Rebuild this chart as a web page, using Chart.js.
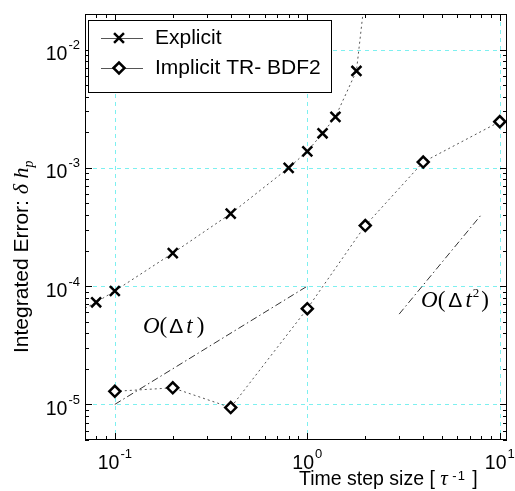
<!DOCTYPE html>
<html lang="en">
<head>
<meta charset="UTF-8">
<title>Integrated error vs time step size</title>
<script src="https://cdn.jsdelivr.net/npm/chart.js@4"></script>
<style>
    html, body { margin: 0; padding: 0; background: #ffffff; }
    #wrap { width: 515px; height: 491px; }
</style>
</head>
<body>
<div id="wrap"><canvas id="errChart" width="515" height="491"></canvas></div>
<script>
// values (step size, integrated error)
// first and last explicit entries only carry the dotted curve out to the frame
const explicitSteps = [0.07, 0.08, 0.1, 0.2, 0.4, 0.8, 1.0, 1.2, 1.4, 1.8, 2.0];
const explicitErr   = [6.5e-5, 7.3e-5, 9.1e-5, 1.9e-4, 4.1e-4, 1.0e-3, 1.38e-3, 1.96e-3, 2.7e-3, 6.6e-3, 3.0e-2];
const explicitShown = [false, true, true, true, true, true, true, true, true, true, false];

const implicitSteps = [0.1, 0.2, 0.4, 1.0, 2.0, 4.0, 10.0];
const implicitErr   = [1.29e-5, 1.38e-5, 9.4e-6, 6.45e-5, 3.25e-4, 1.12e-3, 2.46e-3];

// slope guides
const firstOrderSteps  = [0.1, 1.0];
const firstOrderErr    = [1.0e-5, 1.0e-4];
const secondOrderSteps = [3.0, 8.0];
const secondOrderErr   = [5.8e-5, 4.0e-4];

const seriesLabels = ["Explicit", "Implicit TR- BDF2"];
const xDecades = [-1, 0, 1];
const yDecades = [-5, -4, -3, -2];

const X_MIN = 0.07, X_MAX = 10.9;
const Y_MIN = 5e-6, Y_MAX = 2e-2;

const SANS = '"Liberation Sans", Arial, sans-serif';
const SERIF = '"Liberation Serif", "Times New Roman", serif';

function pairs(xs, ys) {
    return xs.map((x, i) => ({ x: x, y: ys[i] }));
}

function minorValues(min, max) {
    const out = [];
    for (let e = Math.floor(Math.log10(min)); e <= Math.ceil(Math.log10(max)); e++) {
        for (let k = 1; k <= 9; k++) {
            const v = k * Math.pow(10, e);
            if (v >= min * 0.999 && v <= max * 1.001) out.push({ v: v, major: k === 1 });
        }
    }
    return out;
}

// draw pieces of text one after another: [text, font, dx, dy]
function drawRun(ctx, x, y, parts) {
    let cx = x;
    parts.forEach(p => {
        ctx.font = p[1];
        ctx.fillText(p[0], cx + (p[2] || 0), y + (p[3] || 0));
        cx += ctx.measureText(p[0]).width + (p[2] || 0);
    });
    return cx;
}

function drawCross(ctx, x, y, r) {
    const d = r * Math.SQRT1_2;
    ctx.beginPath();
    ctx.moveTo(x - d, y - d); ctx.lineTo(x + d, y + d);
    ctx.moveTo(x + d, y - d); ctx.lineTo(x - d, y + d);
    ctx.stroke();
}

function drawDiamond(ctx, x, y, r) {
    ctx.beginPath();
    ctx.moveTo(x - r, y); ctx.lineTo(x, y - r);
    ctx.lineTo(x + r, y); ctx.lineTo(x, y + r);
    ctx.closePath();
    ctx.fill();
    ctx.stroke();
}

const matlabFrame = {
    id: 'matlabFrame',
    beforeDatasetsDraw(chart) {
        const { ctx, chartArea: a, scales } = chart;
        ctx.save();
        ctx.strokeStyle = '#7df0f0';
        ctx.lineWidth = 1;
        ctx.setLineDash([4, 4]);
        xDecades.forEach(e => {
            const px = Math.round(scales.x.getPixelForValue(Math.pow(10, e))) + 0.5;
            ctx.beginPath(); ctx.moveTo(px, a.top); ctx.lineTo(px, a.bottom); ctx.stroke();
        });
        yDecades.forEach(e => {
            const py = Math.round(scales.y.getPixelForValue(Math.pow(10, e))) + 0.5;
            ctx.beginPath(); ctx.moveTo(a.left, py); ctx.lineTo(a.right, py); ctx.stroke();
        });
        ctx.restore();
    },
    afterDatasetsDraw(chart) {
        const { ctx, chartArea: a, scales } = chart;
        ctx.save();

        // frame and inward ticks
        ctx.strokeStyle = '#000';
        ctx.lineWidth = 1;
        ctx.setLineDash([]);
        ctx.strokeRect(a.left + 0.5, a.top + 0.5, a.right - a.left - 1, a.bottom - a.top - 1);
        ctx.beginPath();
        minorValues(X_MIN, X_MAX).forEach(t => {
            const px = Math.round(scales.x.getPixelForValue(t.v)) + 0.5;
            const len = t.major ? 7 : 4;
            ctx.moveTo(px, a.bottom); ctx.lineTo(px, a.bottom - len);
            ctx.moveTo(px, a.top); ctx.lineTo(px, a.top + len);
        });
        minorValues(Y_MIN, Y_MAX).forEach(t => {
            const py = Math.round(scales.y.getPixelForValue(t.v)) + 0.5;
            const len = t.major ? 7 : 4;
            ctx.moveTo(a.left, py); ctx.lineTo(a.left + len, py);
            ctx.moveTo(a.right, py); ctx.lineTo(a.right - len, py);
        });
        ctx.stroke();

        // tick labels 10^n
        ctx.fillStyle = '#000';
        ctx.textBaseline = 'alphabetic';
        ctx.textAlign = 'left';
        const base = '19.5px ' + SANS, sup = '13px ' + SANS;
        xDecades.forEach(e => {
            const px = scales.x.getPixelForValue(Math.pow(10, e));
            ctx.font = base; const w1 = ctx.measureText('10').width;
            ctx.font = sup; const w2 = ctx.measureText(String(e)).width;
            const x0 = px - (w1 + w2 + 1) / 2;
            ctx.font = base; ctx.fillText('10', x0, a.bottom + 29);
            ctx.font = sup; ctx.fillText(String(e), x0 + w1 + 1, a.bottom + 18);
        });
        yDecades.forEach(e => {
            const py = scales.y.getPixelForValue(Math.pow(10, e));
            ctx.font = base; const w1 = ctx.measureText('10').width;
            ctx.font = sup; const w2 = ctx.measureText(String(e)).width;
            const x0 = a.left - 5 - (w1 + w2 + 1);
            ctx.font = base; ctx.fillText('10', x0, py + 10.5);
            ctx.font = sup; ctx.fillText(String(e), x0 + w1 + 1, py - 0.5);
        });

        // axis titles
        drawRun(ctx, 299, 485, [
            ['Time step size [ ', '19.5px ' + SANS],
            ['\u03C4', 'italic 21px ' + SERIF],
            [' -', '13px ' + SANS, 1, -5],
            ['1', '13px ' + SANS, 1, -5],
            [' ]', '19.5px ' + SANS, 2]
        ]);

        ctx.save();
        ctx.translate(28, 353);
        ctx.rotate(-Math.PI / 2);
        drawRun(ctx, 0, 0, [
            ['Integrated Error: ', '21px ' + SANS],
            ['\u03B4', 'italic 22px ' + SERIF],
            [' h', 'italic 22px ' + SERIF],
            ['p', 'italic 14px ' + SERIF, 0, 5]
        ]);
        ctx.restore();

        // slope guide labels
        const o1x = scales.x.getPixelForValue(0.14), o1y = scales.y.getPixelForValue(4.7e-5);
        drawRun(ctx, o1x, o1y + 8, [
            ['O', 'italic 23px ' + SERIF],
            ['(', '23px ' + SERIF],
            ['\u0394', '21px ' + SANS, 2],
            ['t', 'italic 23px ' + SERIF, 3],
            [')', '23px ' + SERIF, 4]
        ]);
        const o2x = scales.x.getPixelForValue(3.9), o2y = scales.y.getPixelForValue(7.7e-5);
        drawRun(ctx, o2x, o2y + 7, [
            ['O', 'italic 23px ' + SERIF],
            ['(', '23px ' + SERIF],
            ['\u0394', '21px ' + SANS, 3],
            ['t', 'italic 23px ' + SERIF, 3],
            ['2', '13px ' + SERIF, 1, -10],
            [')', '23px ' + SERIF, 2]
        ]);

        // legend box
        const lx = 88, ly = 20, lw = 243, lh = 72;
        ctx.fillStyle = '#fff';
        ctx.fillRect(lx, ly, lw, lh);
        ctx.strokeStyle = '#000';
        ctx.lineWidth = 1;
        ctx.strokeRect(lx + 0.5, ly + 0.5, lw, lh);
        const rows = [38, 68];
        rows.forEach((ry, i) => {
            ctx.strokeStyle = '#555';
            ctx.lineWidth = 1;
            ctx.beginPath(); ctx.moveTo(101, ry + 0.5); ctx.lineTo(143, ry + 0.5); ctx.stroke();
            ctx.strokeStyle = '#000';
            ctx.fillStyle = '#fff';
            ctx.lineWidth = 2.5;
            if (i === 0) drawCross(ctx, 119, ry, 7);
            else drawDiamond(ctx, 119, ry, 5.5);
            ctx.fillStyle = '#000';
            ctx.font = '21px ' + SANS;
            ctx.fillText(seriesLabels[i], 155, ry + 6);
        });

        ctx.restore();
    }
};

new Chart(document.getElementById('errChart'), {
    type: 'scatter',
    data: {
        datasets: [
            {
                label: 'O(dt)',
                data: pairs(firstOrderSteps, firstOrderErr),
                showLine: true,
                borderColor: '#333',
                borderWidth: 1,
                borderDash: [7, 3, 1.5, 3],
                pointRadius: 0
            },
            {
                label: 'O(dt^2)',
                data: pairs(secondOrderSteps, secondOrderErr),
                showLine: true,
                borderColor: '#333',
                borderWidth: 1,
                borderDash: [7, 3, 1.5, 3],
                pointRadius: 0
            },
            {
                label: seriesLabels[0],
                data: pairs(explicitSteps, explicitErr),
                showLine: true,
                borderColor: '#555',
                borderWidth: 1,
                borderDash: [2, 3],
                pointStyle: 'crossRot',
                pointRadius: explicitShown.map(s => s ? 7 : 0),
                pointBorderWidth: 2.5,
                pointBorderColor: '#000',
                pointBackgroundColor: '#fff'
            },
            {
                label: seriesLabels[1],
                data: pairs(implicitSteps, implicitErr),
                showLine: true,
                borderColor: '#555',
                borderWidth: 1,
                borderDash: [2, 3],
                pointStyle: 'rectRot',
                pointRadius: 5.5,
                pointBorderWidth: 2.5,
                pointBorderColor: '#000',
                pointBackgroundColor: '#fff'
            }
        ]
    },
    options: {
        responsive: false,
        animation: false,
        devicePixelRatio: 1,
        layout: { padding: { top: 14, right: 6, left: 0, bottom: 0 } },
        plugins: {
            legend: { display: false },
            tooltip: { enabled: false }
        },
        scales: {
            x: {
                type: 'logarithmic',
                min: X_MIN,
                max: X_MAX,
                bounds: 'data',
                grid: { display: false },
                border: { display: false },
                ticks: { display: false },
                afterFit: s => { s.height = 51; }
            },
            y: {
                type: 'logarithmic',
                min: Y_MIN,
                max: Y_MAX,
                bounds: 'data',
                grid: { display: false },
                border: { display: false },
                ticks: { display: false },
                afterFit: s => { s.width = 85; }
            }
        }
    },
    plugins: [matlabFrame]
});
</script>
</body>
</html>
